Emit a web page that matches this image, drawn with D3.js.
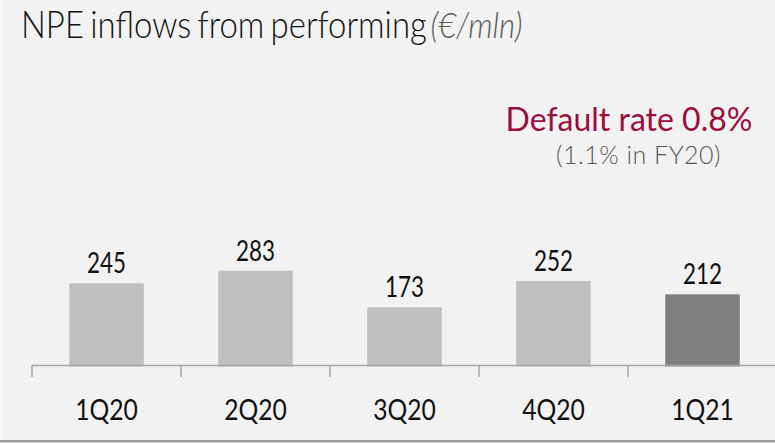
<!DOCTYPE html>
<html>
<head>
<meta charset="utf-8">
<script src="https://cdn.jsdelivr.net/npm/d3@7"></script>
<style>
  html, body { margin: 0; padding: 0; background: #f2f2f2; }
  svg { display: block; }
  text { font-family: Lato, "Open Sans", sans-serif; }
</style>
</head>
<body>
<svg id="chart" width="775" height="443"></svg>
<script>
const categories = ["1Q20", "2Q20", "3Q20", "4Q20", "1Q21"];
const inflows = [245, 283, 173, 252, 212];
const highlighted = ["1Q21"];
const titleText = "NPE inflows from performing";
const unitText = "(€/mln)";
const noteMain = "Default rate 0.8%";
const noteSub = "(1.1% in FY20)";

const svg = d3.select("#chart");
const W = 775, H = 443;

svg.append("rect").attr("x", 0).attr("y", 0).attr("width", W).attr("height", H).attr("fill", "#f2f2f2");
svg.append("rect").attr("x", 0).attr("y", 0).attr("width", 3).attr("height", H).attr("fill", "#f7f7f7");
svg.append("rect").attr("x", 0).attr("y", 440).attr("width", W).attr("height", 2).attr("fill", "#9a9a9a");
svg.append("rect").attr("x", 0).attr("y", 442).attr("width", W).attr("height", 1).attr("fill", "#d0d0d0");

const baseY = 365;
const x = d3.scaleBand().domain(categories).range([32, 777]).paddingInner(0.5).paddingOuter(0.25);
const y = d3.scaleLinear().domain([0, 300]).range([baseY, baseY - 100]);

// title (condensed look)
const t = svg.append("text").attr("transform", "translate(21,38) scale(0.89,1)")
  .attr("font-size", 37).attr("word-spacing", -3).attr("fill", "#111");
t.append("tspan").attr("font-weight", 300).text(titleText);
t.append("tspan").attr("dx", 4).attr("font-style", "italic").attr("font-weight", 300)
  .attr("font-size", 35).attr("fill", "#595959").text(unitText);

// note
svg.append("text").attr("x", 629).attr("y", 131).attr("text-anchor", "middle")
  .attr("font-size", 32).attr("fill", "#9b0d3a").text(noteMain);
svg.append("text").attr("x", 638.5).attr("y", 164).attr("text-anchor", "middle")
  .attr("font-size", 25).attr("font-weight", 300).attr("letter-spacing", 0.5)
  .attr("fill", "#595959").text(noteSub);

// bars
svg.selectAll("rect.bar").data(categories).join("rect").attr("class", "bar")
  .attr("x", d => x(d)).attr("width", x.bandwidth())
  .attr("y", (d, i) => y(inflows[i])).attr("height", (d, i) => y(0) - y(inflows[i]) + 1.5)
  .attr("fill", d => highlighted.includes(d) ? "#7f7f7f" : "#bfbfbf");

// axis line and ticks at band boundaries
const step = x.step();
const boundaries = categories.map(c => x(c) - (step - x.bandwidth()) / 2);
svg.append("line").attr("x1", boundaries[0]).attr("x2", W).attr("y1", baseY + 0.5).attr("y2", baseY + 0.5)
  .attr("stroke", "#a6a6a6").attr("stroke-width", 1.5);
svg.selectAll("line.tick").data(boundaries).join("line").attr("class", "tick")
  .attr("x1", d => d).attr("x2", d => d).attr("y1", baseY).attr("y2", baseY + 12)
  .attr("stroke", "#a6a6a6").attr("stroke-width", 1.5);

// value labels
svg.selectAll("text.val").data(categories).join("text").attr("class", "val")
  .attr("transform", (d, i) => `translate(${x(d) + x.bandwidth() / 2},${y(inflows[i]) - 10}) scale(0.8,1)`)
  .attr("text-anchor", "middle").attr("font-size", 28).attr("fill", "#111")
  .text((d, i) => inflows[i]);

// category labels
svg.selectAll("text.cat").data(categories).join("text").attr("class", "cat")
  .attr("transform", d => `translate(${x(d) + x.bandwidth() / 2},420) scale(0.85,1)`)
  .attr("text-anchor", "middle").attr("font-size", 29).attr("fill", "#111")
  .text(d => d);
</script>
</body>
</html>
